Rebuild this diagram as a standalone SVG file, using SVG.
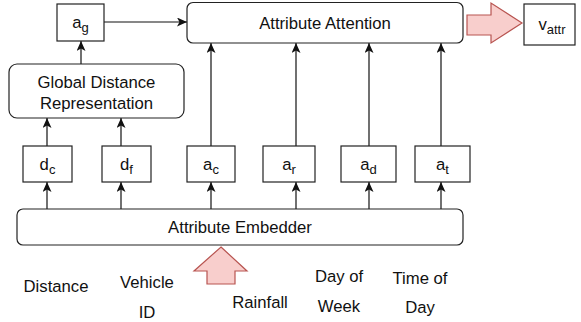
<svg xmlns="http://www.w3.org/2000/svg" width="581" height="322" viewBox="0 0 581 322">
<style>
.box{fill:#fff;stroke:#222;stroke-width:1.2}
.t{font-family:"Liberation Sans",Arial,Helvetica,sans-serif;font-size:16.7px;fill:#111;text-anchor:middle}
.s{font-size:13px}
.ln{fill:none;stroke:#111;stroke-width:1.2;marker-end:url(#ah)}
.big{fill:#f8cecc;stroke:#b85450;stroke-width:1.2}
</style>
<defs>
<marker id="ah" viewBox="0 0 10 9" refX="10" refY="4.5" markerWidth="10" markerHeight="9" orient="auto" markerUnits="userSpaceOnUse">
<path d="M0,0 L10,4.5 L0,9 L2.5,4.5 z" fill="#111"/>
</marker>
</defs>
<g id="connectors">
<line class="ln" x1="104" y1="22" x2="187" y2="22"/>
<line class="ln" x1="81" y1="64" x2="81" y2="41"/>
<line class="ln" x1="47" y1="146" x2="47" y2="118"/>
<line class="ln" x1="121" y1="146" x2="121" y2="118"/>
<line class="ln" x1="211" y1="146" x2="211" y2="43"/>
<line class="ln" x1="296" y1="146" x2="296" y2="43"/>
<line class="ln" x1="369" y1="146" x2="369" y2="43"/>
<line class="ln" x1="441" y1="146" x2="441" y2="43"/>
<line class="ln" x1="47" y1="209" x2="47" y2="182"/>
<line class="ln" x1="121" y1="209" x2="121" y2="182"/>
<line class="ln" x1="211" y1="209" x2="211" y2="182"/>
<line class="ln" x1="296" y1="209" x2="296" y2="182"/>
<line class="ln" x1="369" y1="209" x2="369" y2="182"/>
<line class="ln" x1="441" y1="209" x2="441" y2="182"/>
<polygon class="big" points="467,15 491,15 491,3 522,23 491,43 491,35 467,35"/>
<polygon class="big" points="221,247 247,271 235,271 235,284 207,284 207,271 194,271"/>
</g>
<g id="ag"><rect class="box" x="57" y="4" width="47" height="37"/><text class="t" x="80.5" y="28">a<tspan class="s" dy="4">g</tspan></text></g>
<g id="attr-attention"><rect class="box" x="187" y="2.5" width="276" height="40.5" rx="6"/><text class="t" x="325" y="28.5">Attribute Attention</text></g>
<g id="vattr"><rect class="box" x="524" y="4" width="51" height="41"/><text class="t" x="552" y="30">v<tspan class="s" dy="4">attr</tspan></text></g>
<g id="global"><rect class="box" x="9" y="64" width="175" height="54" rx="8"/><text class="t" x="96.5" y="88">Global Distance</text><text class="t" x="96.5" y="109">Representation</text></g>
<g id="dc"><rect class="box" x="23" y="146" width="49" height="36"/><text class="t" x="47.5" y="170">d<tspan class="s" dy="4">c</tspan></text></g>
<g id="df"><rect class="box" x="102" y="146" width="49" height="36"/><text class="t" x="126.5" y="170">d<tspan class="s" dy="4">f</tspan></text></g>
<g id="ac"><rect class="box" x="187" y="146" width="48" height="36"/><text class="t" x="211" y="170">a<tspan class="s" dy="4">c</tspan></text></g>
<g id="ar"><rect class="box" x="263" y="146" width="52" height="36"/><text class="t" x="289" y="170">a<tspan class="s" dy="4">r</tspan></text></g>
<g id="ad"><rect class="box" x="341" y="146" width="55" height="36"/><text class="t" x="368.5" y="170">a<tspan class="s" dy="4">d</tspan></text></g>
<g id="at"><rect class="box" x="415" y="146" width="55" height="36"/><text class="t" x="442.5" y="170">a<tspan class="s" dy="4">t</tspan></text></g>
<g id="embedder"><rect class="box" x="17" y="209" width="446" height="36" rx="6"/><text class="t" x="240" y="233">Attribute Embedder</text></g>
<g id="labels">
<text class="t" x="56" y="292">Distance</text>
<text class="t" x="147" y="288">Vehicle</text>
<text class="t" x="147" y="318">ID</text>
<text class="t" x="260" y="308">Rainfall</text>
<text class="t" x="339" y="282">Day of</text>
<text class="t" x="339" y="312">Week</text>
<text class="t" x="420" y="284">Time of</text>
<text class="t" x="420" y="313">Day</text>
</g>
</svg>
